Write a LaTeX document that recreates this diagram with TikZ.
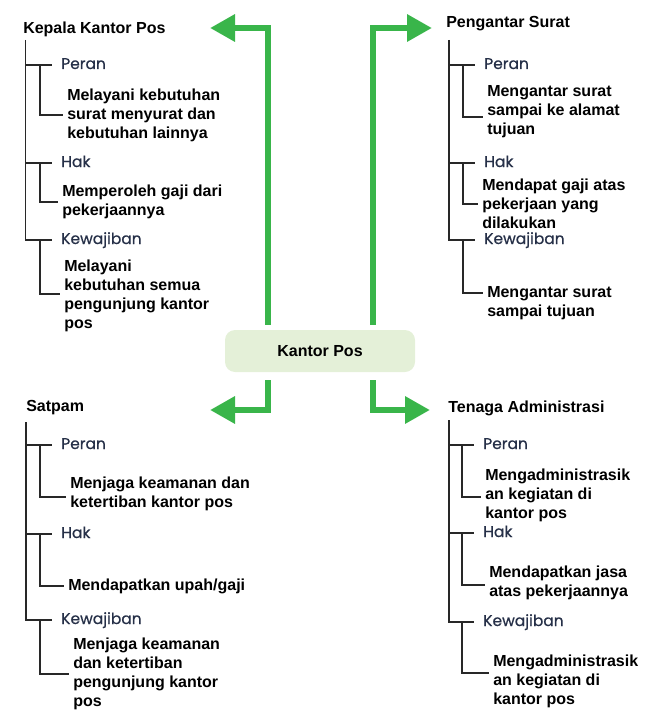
\documentclass[tikz,border=0pt]{standalone}
\usepackage{fontspec}
\setmainfont{Liberation Sans}
\newfontfamily\subfont{Poppins}[FakeBold=0.6]
\usetikzlibrary{positioning, arrows.meta}
\definecolor{posgreen}{RGB}{57,181,74}
\definecolor{hubfill}{RGB}{228,240,216}
\definecolor{subcol}{RGB}{38,48,72}
\definecolor{linecol}{RGB}{40,40,40}

\begin{document}
\begin{tikzpicture}[x=0.75pt,y=-0.75pt,>={Triangle[length=18.75pt,width=19.5pt]},
		line join=miter]
		\tikzstyle{hub}=[fill=hubfill,rounded corners=7.5pt,minimum width=142.5pt,minimum height=31.5pt,font=\bfseries\fontsize{12}{14}\selectfont]
		\tikzstyle{group}=[anchor=west,inner sep=0pt,font=\bfseries\fontsize{12}{14.25}\selectfont]
		\tikzstyle{sublabel}=[anchor=west,inner xsep=6.75pt,inner ysep=0pt,text height=8.5pt,text depth=2.5pt,text=subcol,font=\subfont\fontsize{11.6}{13}\selectfont]
		\tikzstyle{desc}=[anchor=west,inner xsep=3pt,inner ysep=0pt,align=left,font=\bfseries\fontsize{12}{14.25}\selectfont]
		\tikzstyle{tree}=[draw=linecol,line width=1.1pt]
		\tikzstyle{flow}=[draw=posgreen,line width=4.9pt,->]
		\useasboundingbox (0,0) rectangle (651,717);

		\node[hub] (kp) at (320,351) {Kantor Pos};

		% Kepala Kantor Pos
		\node[group] (kkp) at (23,29) {Kepala Kantor Pos};
		\node[sublabel] (kkp-peran) at (52,65) {Peran};
		\node[sublabel] (kkp-hak) at (52,163) {Hak};
		\node[sublabel] (kkp-kew) at (52,240) {Kewajiban};
		\node[desc] (kkp-peran-d) at (63,115) {Melayani kebutuhan\\surat menyurat dan\\kebutuhan lainnya};
		\node[desc] (kkp-hak-d) at (58,202) {Memperoleh gaji dari\\pekerjaannya};
		\node[desc] (kkp-kew-d) at (60,296) {Melayani\\kebutuhan semua\\pengunjung kantor\\pos};
		\coordinate (kkp-t) at (25.5,40);
		\draw[tree] (kkp-t) |- (kkp-kew.west)
			(kkp-t |- kkp-peran.west) -- (kkp-peran.west)
			(kkp-t |- kkp-hak.west) -- (kkp-hak.west)
			([xshift=-9pt]kkp-peran.west) |- (kkp-peran-d.west)
			([xshift=-9pt]kkp-hak.west) |- (kkp-hak-d.west)
			([xshift=-9pt]kkp-kew.west) |- ([yshift=1.5pt]kkp-kew-d.west);

		% Pengantar Surat
		\node[group] (ps) at (446,24) {Pengantar Surat};
		\node[sublabel] (ps-peran) at (475,65) {Peran};
		\node[sublabel] (ps-hak) at (475,163) {Hak};
		\node[sublabel] (ps-kew) at (475,240) {Kewajiban};
		\node[desc] (ps-peran-d) at (483,112) {Mengantar surat\\sampai ke alamat\\tujuan};
		\node[desc] (ps-hak-d) at (478,204) {Mendapat gaji atas\\pekerjaan yang\\dilakukan};
		\node[desc] (ps-kew-d) at (483,303) {Mengantar surat\\sampai tujuan};
		\coordinate (ps-t) at (449,40);
		\draw[tree] (ps-t) |- (ps-kew.west)
			(ps-t |- ps-peran.west) -- (ps-peran.west)
			(ps-t |- ps-hak.west) -- (ps-hak.west)
			([xshift=-9pt]ps-peran.west) |- ([yshift=-3.75pt]ps-peran-d.west)
			([xshift=-9pt]ps-hak.west) |- (ps-hak-d.west)
			([xshift=-9pt]ps-kew.west) |- ([yshift=7.5pt]ps-kew-d.west);

		% Satpam
		\node[group] (sp) at (26,408) {Satpam};
		\node[sublabel] (sp-peran) at (52,445) {Peran};
		\node[sublabel] (sp-hak) at (52,534) {Hak};
		\node[sublabel] (sp-kew) at (52,620) {Kewajiban};
		\node[desc] (sp-peran-d) at (66,494) {Menjaga keamanan dan\\ketertiban kantor pos};
		\node[desc] (sp-hak-d) at (64,586) {Mendapatkan upah/gaji};
		\node[desc] (sp-kew-d) at (69,674) {Menjaga keamanan\\dan ketertiban\\pengunjung kantor\\pos};
		\coordinate (sp-t) at (26,422);
		\draw[tree] (sp-t) |- (sp-kew.west)
			(sp-t |- sp-peran.west) -- (sp-peran.west)
			(sp-t |- sp-hak.west) -- (sp-hak.west)
			([xshift=-9pt]sp-peran.west) |- ([yshift=-2.25pt]sp-peran-d.west)
			([xshift=-9pt]sp-hak.west) |- (sp-hak-d.west)
			([xshift=-9pt]sp-kew.west) |- (sp-kew-d.west);

		% Tenaga Administrasi
		\node[group] (ta) at (448,408) {Tenaga Administrasi};
		\node[sublabel] (ta-peran) at (474,445) {Peran};
		\node[sublabel] (ta-hak) at (474,533) {Hak};
		\node[sublabel] (ta-kew) at (474,622) {Kewajiban};
		\node[desc] (ta-peran-d) at (481,495) {Mengadministrasik\\an kegiatan di\\kantor pos};
		\node[desc] (ta-hak-d) at (485,583) {Mendapatkan jasa\\atas pekerjaannya};
		\node[desc] (ta-kew-d) at (489,681) {Mengadministrasik\\an kegiatan di\\kantor pos};
		\coordinate (ta-t) at (449,420);
		\draw[tree] (ta-t) |- (ta-kew.west)
			(ta-t |- ta-peran.west) -- (ta-peran.west)
			(ta-t |- ta-hak.west) -- (ta-hak.west)
			([xshift=-9pt]ta-peran.west) |- ([yshift=-1.5pt]ta-peran-d.west)
			([xshift=-9pt]ta-hak.west) |- ([yshift=-1.5pt]ta-hak-d.west)
			([xshift=-9pt]ta-kew.west) |- ([yshift=6pt]ta-kew-d.west);

		% arrows from Kantor Pos
		\coordinate (tip-kkp) at (210,28);
		\coordinate (tip-ps) at (432,28);
		\coordinate (tip-sp) at (210,410);
		\coordinate (tip-ta) at (430,410);
		\draw[flow] ([xshift=-39pt,yshift=3.75pt]kp.north) |- (tip-kkp);
		\draw[flow] ([xshift=39.75pt,yshift=3.75pt]kp.north) |- (tip-ps);
		\draw[flow] ([xshift=-39pt,yshift=-6pt]kp.south) |- (tip-sp);
		\draw[flow] ([xshift=39.75pt,yshift=-6pt]kp.south) |- (tip-ta);
	\end{tikzpicture}
\end{document}
